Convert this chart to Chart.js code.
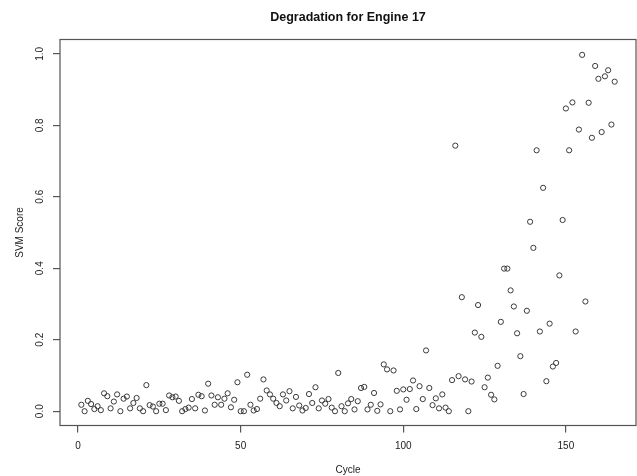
<!DOCTYPE html>
<html>
<head>
<meta charset="utf-8">
<script src="https://cdn.jsdelivr.net/npm/chart.js@4/dist/chart.umd.min.js"></script>
<style>
  html, body { margin: 0; padding: 0; background: #fff; }
  canvas { display: block; }
</style>
</head>
<body>
<canvas id="engine-chart" width="637" height="476"></canvas>
<script>
const chartTitle = 'Degradation for Engine 17';
const xLabel = 'Cycle';
const yLabel = 'SVM Score';
const cycleTicks = [0, 50, 100, 150];
const scoreTicks = [0, 0.2, 0.4, 0.6, 0.8, 1.0];
const firstCycle = 1;

// one score per cycle, cycles 1..165
const svmScore = [
  0.018, 0.0, 0.029, 0.02, 0.006, 0.014, 0.003, 0.05, 0.042, 0.008,
  0.027, 0.047, 0.0, 0.035, 0.041, 0.008, 0.023, 0.037, 0.008, 0.0,
  0.073, 0.017, 0.013, 0.0, 0.021, 0.021, 0.003, 0.044, 0.039, 0.041,
  0.029, 0.0, 0.006, 0.01, 0.034, 0.008, 0.046, 0.042, 0.002, 0.077,
  0.044, 0.018, 0.039, 0.018, 0.035, 0.05, 0.011, 0.032, 0.081, 0.0,
  0.0, 0.102, 0.018, 0.002, 0.006, 0.035, 0.089, 0.058, 0.047, 0.035,
  0.023, 0.014, 0.047, 0.03, 0.056, 0.008, 0.04, 0.016, 0.002, 0.009,
  0.048, 0.023, 0.067, 0.008, 0.03, 0.021, 0.034, 0.01, 0.0, 0.107,
  0.014, 0.0, 0.022, 0.034, 0.005, 0.028, 0.065, 0.068, 0.005, 0.018,
  0.051, 0.001, 0.019, 0.131, 0.117, 0.0, 0.114, 0.057, 0.005, 0.061,
  0.032, 0.062, 0.086, 0.006, 0.07, 0.034, 0.17, 0.065, 0.017, 0.036,
  0.008, 0.047, 0.01, 0.0, 0.087, 0.743, 0.098, 0.319, 0.089, 0.0,
  0.083, 0.22, 0.297, 0.208, 0.067, 0.094, 0.046, 0.033, 0.127, 0.25,
  0.399, 0.399, 0.338, 0.293, 0.218, 0.154, 0.048, 0.281, 0.53, 0.457,
  0.73, 0.223, 0.625, 0.084, 0.245, 0.125, 0.135, 0.38, 0.535, 0.847,
  0.73, 0.864, 0.223, 0.788, 0.997, 0.307, 0.863, 0.765, 0.966, 0.93,
  0.781, 0.937, 0.954, 0.802, 0.922
];

const points = svmScore.map((v, i) => ({ x: firstCycle + i, y: v }));

const inkColor = '#555';
const textColor = '#222';

Chart.defaults.font.family = "'Liberation Sans', Arial, Helvetica, sans-serif";
Chart.defaults.color = textColor;

// R style box around the plot region
const plotFrame = {
  id: 'plotFrame',
  afterDatasetsDraw(chart) {
    const { ctx, chartArea } = chart;
    ctx.save();
    ctx.strokeStyle = inkColor;
    ctx.lineWidth = 1.2;
    ctx.strokeRect(chartArea.left, chartArea.top, chartArea.right - chartArea.left, chartArea.bottom - chartArea.top);
    ctx.restore();
  }
};

new Chart(document.getElementById('engine-chart'), {
  type: 'scatter',
  data: {
    datasets: [{
      label: yLabel,
      data: points,
      pointStyle: 'circle',
      pointRadius: 2.6,
      borderWidth: 1,
      borderColor: '#3a3a3a',
      backgroundColor: 'rgba(0,0,0,0)'
    }]
  },
  options: {
    responsive: false,
    animation: false,
    events: [],
    layout: { autoPadding: false, padding: { left: 0, right: 1, top: 0, bottom: 0 } },
    scales: {
      x: {
        type: 'linear',
        min: -5.56,
        max: 171.56,
        afterBuildTicks(scale) { scale.ticks = cycleTicks.map(v => ({ value: v })); },
        afterFit(scale) { scale.height = 50.5; },
        border: { display: false },
        grid: { drawOnChartArea: false, drawTicks: true, tickLength: 7, color: inkColor, lineWidth: 1.2 },
        ticks: { padding: 8, color: textColor, font: { size: 10 }, maxRotation: 0, callback: v => String(v) },
        title: { display: true, text: xLabel, color: textColor, font: { size: 10 }, padding: { top: 0, bottom: 0 } }
      },
      y: {
        type: 'linear',
        min: -0.04,
        max: 1.04,
        afterBuildTicks(scale) { scale.ticks = scoreTicks.map(v => ({ value: v })); },
        afterFit(scale) { scale.width = 60; },
        border: { display: false },
        grid: { drawOnChartArea: false, drawTicks: true, tickLength: 7, color: inkColor, lineWidth: 1.2 },
        ticks: {
          padding: 6, color: textColor, font: { size: 10 },
          minRotation: 90, maxRotation: 90, crossAlign: 'center',
          callback: v => Number(v).toFixed(1)
        },
        title: { display: true, text: yLabel, color: textColor, font: { size: 10 }, padding: { top: 14, bottom: 0 } }
      }
    },
    plugins: {
      legend: { display: false },
      tooltip: { enabled: false },
      title: {
        display: true,
        fullSize: false,
        text: chartTitle,
        color: '#111',
        font: { size: 12.5, weight: 'bold' },
        padding: { top: 10.5, bottom: 14 }
      }
    }
  },
  plugins: [plotFrame]
});
</script>
</body>
</html>
